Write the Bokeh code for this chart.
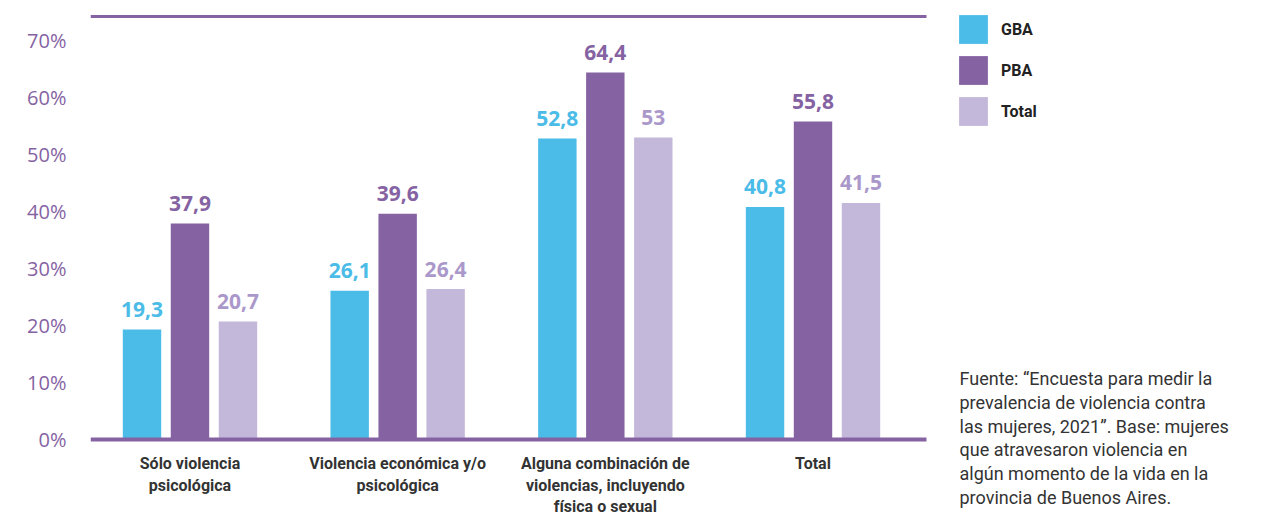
from bokeh.plotting import figure
from bokeh.models import ColumnDataSource, Range1d, FixedTicker, Legend, LegendItem, Label
from bokeh.core.properties import value
from bokeh.embed import file_html
from bokeh.resources import INLINE
from bokeh.transform import dodge

# ---- data ----
categories = [
    "Sólo violencia\npsicológica",
    "Violencia económica y/o\npsicológica",
    "Alguna combinación de\nviolencias, incluyendo\nfísica o sexual",
    "Total",
]
series = ["GBA", "PBA", "Total"]
gba = [19.3, 26.1, 52.8, 40.8]
pba = [37.9, 39.6, 64.4, 55.8]
total = [20.7, 26.4, 53.0, 41.5]
y_ticks = [0, 10, 20, 30, 40, 50, 60, 70]
y_tick_labels = ["0%", "10%", "20%", "30%", "40%", "50%", "60%", "70%"]
y_top_rule = 74.2
source_note = ("Fuente: \u201cEncuesta para medir la\n"
               "prevalencia de violencia contra\n"
               "las mujeres, 2021\u201d. Base: mujeres\n"
               "que atravesaron violencia en\n"
               "algún momento de la vida en la\n"
               "provincia de Buenos Aires.")

# ---- styles ----
C_GBA = "#4bbbe7"
C_PBA = "#8563a3"
C_TOT = "#c4b8da"
C_TOT_TXT = "#ab98ca"
C_TEXT = "#333333"
FONT_NUM = "Open Sans"
FONT_TXT = "Roboto"

# chart area in data units
X0, X1 = -0.479, 3.5465


def fmt(v):
    return f"{v:g}".replace(".", ",")


src = ColumnDataSource(dict(
    x=list(range(len(categories))),
    gba=gba, pba=pba, total=total,
    gba_l=[fmt(v) for v in gba],
    pba_l=[fmt(v) for v in pba],
    total_l=[fmt(v) for v in total],
))

p = figure(
    width=1261, height=516,
    x_range=Range1d(X0, 5.1596),
    y_range=Range1d(-13.51, 77.02),
    output_backend="svg", toolbar_location=None,
    min_border_left=90, min_border_right=0,
    min_border_top=0, min_border_bottom=0,
)
p.outline_line_color = None
p.xgrid.visible = False
p.ygrid.visible = False
p.xaxis.visible = False

p.yaxis.ticker = FixedTicker(ticks=y_ticks)
p.yaxis.major_label_overrides = {t: l for t, l in zip(y_ticks, y_tick_labels)}
p.yaxis.axis_line_color = None
p.yaxis.major_tick_line_color = None
p.yaxis.minor_tick_line_color = None
p.yaxis.major_tick_out = 0
p.yaxis.major_tick_in = 0
p.yaxis.major_label_standoff = 24
p.yaxis.major_label_text_font = FONT_NUM
p.yaxis.major_label_text_font_size = "20px"
p.yaxis.major_label_text_color = C_PBA

off = 0.231
w = 0.185
r1 = p.vbar(x=dodge("x", -off), top="gba", width=w, source=src, fill_color=C_GBA, line_color=None)
r2 = p.vbar(x=dodge("x", 0), top="pba", width=w, source=src, fill_color=C_PBA, line_color=None)
r3 = p.vbar(x=dodge("x", off), top="total", width=w, source=src, fill_color=C_TOT, line_color=None)

for dx, col, lab, c in [(-off, "gba", "gba_l", C_GBA), (0, "pba", "pba_l", C_PBA), (off, "total", "total_l", C_TOT_TXT)]:
    p.text(x=dodge("x", dx), y=col, text=lab, source=src,
           text_align="center", text_baseline="alphabetic", y_offset=-20,
           text_font=value(FONT_NUM), text_font_style="bold",
           text_font_size="21px", text_color=c)

# top and baseline rules
p.segment(x0=[X0], x1=[X1], y0=[y_top_rule], y1=[y_top_rule], line_color=C_PBA, line_width=3)
p.segment(x0=[X0], x1=[X1], y0=[0], y1=[0], line_color=C_PBA, line_width=4)

# category labels
for i, cat in enumerate(categories):
    p.add_layout(Label(x=i, y=-2.5, text=cat, text_align="center", text_baseline="top",
                       text_font=FONT_TXT, text_font_style="bold", text_font_size="16px",
                       text_color=C_TEXT, text_line_height=1.15))

legend = Legend(
    items=[LegendItem(label=s, renderers=[r]) for s, r in zip(series, [r1, r2, r3])],
    location=(865, 387), glyph_width=36, glyph_height=36, spacing=5,
    padding=0, margin=0, label_standoff=10,
    label_text_font=FONT_TXT, label_text_font_style="bold", label_text_font_size="16px",
    label_text_color="#222222", border_line_color=None, background_fill_alpha=0,
)
p.add_layout(legend)

p.add_layout(Label(x=3.7054, y=12.6, text=source_note, text_align="left", text_baseline="top",
                   text_font=FONT_TXT, text_font_size="18px", text_color=C_TEXT,
                   text_line_height=1.14))

open("out.html", "w").write(file_html(p, INLINE))
